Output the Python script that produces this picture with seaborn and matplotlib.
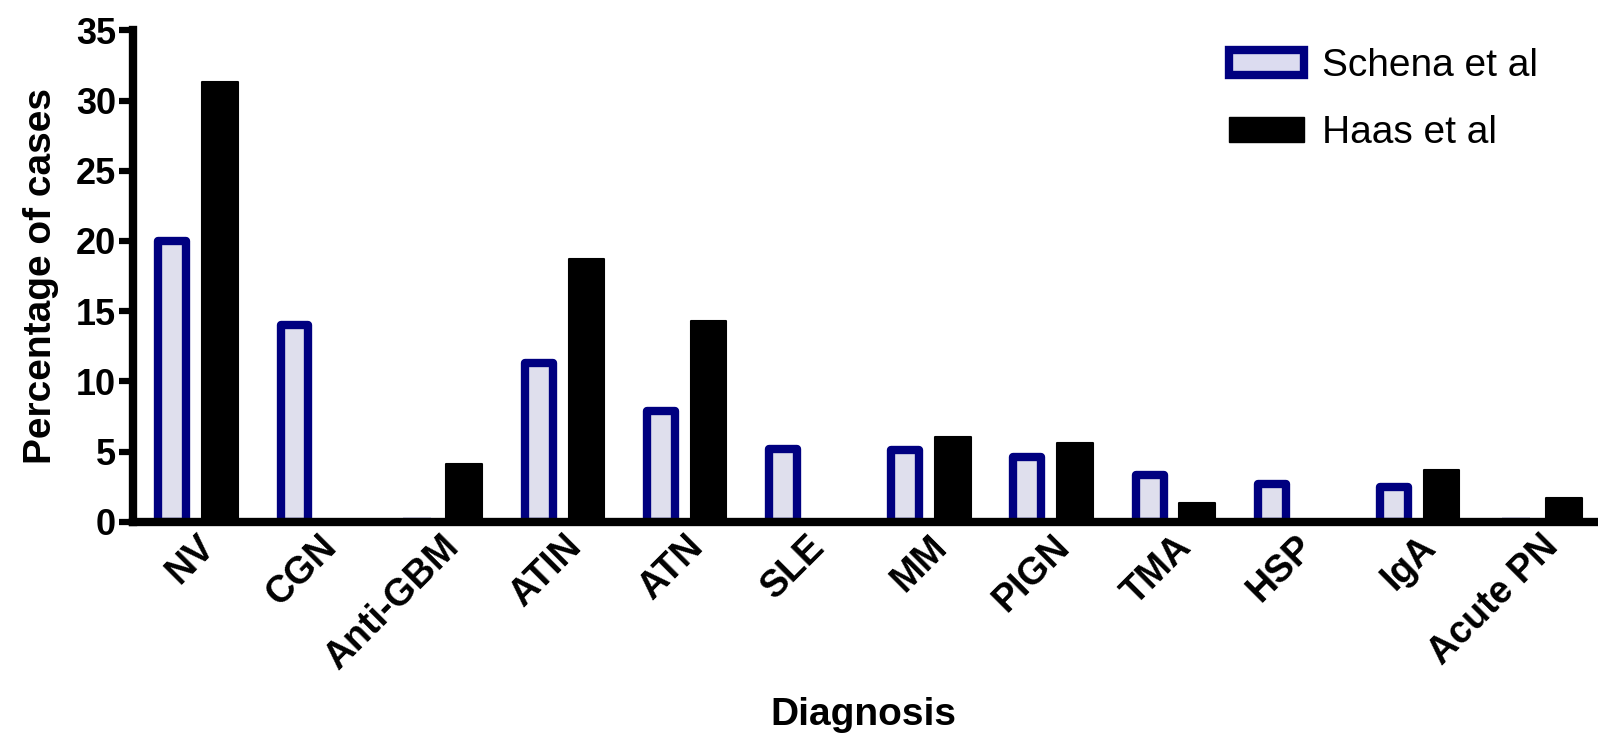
import matplotlib
matplotlib.use('Agg')
import matplotlib.pyplot as plt
import pandas as pd
import seaborn as sns
from matplotlib.patches import Patch

diagnoses = ['NV', 'CGN', 'Anti-GBM', 'ATIN', 'ATN', 'SLE', 'MM', 'PIGN',
             'TMA', 'HSP', 'IgA', 'Acute PN']
schena = [20.0, 14.0, 0.0, 11.3, 7.9, 5.2, 5.1, 4.6, 3.3, 2.7, 2.5, 0.0]
haas = [31.3, 0.0, 4.1, 18.7, 14.3, 0.0, 6.0, 5.6, 1.3, 0.0, 3.7, 1.7]
series_names = ['Schena et al', 'Haas et al']

NAVY = '#000080'
FILL = '#dcdcf0'

df = pd.DataFrame({
    'Diagnosis': diagnoses * 2,
    'Percentage': schena + haas,
    'Study': [series_names[0]] * len(diagnoses) + [series_names[1]] * len(diagnoses),
})

sns.set_style('white', rc={'text.color': 'black', 'axes.labelcolor': 'black',
                           'xtick.color': 'black', 'ytick.color': 'black'})
plt.rcParams['font.family'] = ['Liberation Sans', 'DejaVu Sans']

fig = plt.figure(figsize=(15.98, 7.39), dpi=100)
ax = fig.add_axes([0.083, 0.294, 0.915, 0.665])

sns.barplot(data=df, x='Diagnosis', y='Percentage', hue='Study', order=diagnoses,
            hue_order=series_names, palette=[FILL, 'black'], width=0.78, gap=0.25,
            ax=ax, legend=False)

# Schena bars: thick navy outline drawn inside a narrower bar
shrink = 0.032
for bar in ax.containers[0]:
    bar.set_x(bar.get_x() + shrink)
    bar.set_width(bar.get_width() - 2 * shrink)
    bar.set_edgecolor(NAVY)
    bar.set_linewidth(6)
    bar.set_joinstyle('round')
for bar in ax.containers[1]:
    bar.set_edgecolor('black')
    bar.set_linewidth(1.5)
    bar.set_joinstyle('round')

ax.set_xlim(-0.52, 11.45)
ax.set_ylim(0, 35)
ax.set_yticks(range(0, 36, 5))
ax.tick_params(axis='y', which='major', length=10, width=4.5, direction='out',
               labelsize=26, pad=2, left=True)
ax.tick_params(axis='x', length=0, pad=5)
for lbl in ax.get_yticklabels():
    lbl.set_fontweight('bold')
ax.set_xticks(range(len(diagnoses)))
ax.set_xticklabels(diagnoses, rotation=45, ha='right', rotation_mode='anchor',
                   fontweight='bold', fontsize=27)

sns.despine(ax=ax)
for side in ['left', 'bottom']:
    ax.spines[side].set_linewidth(6)
    ax.spines[side].set_color('black')

ax.set_ylabel('Percentage of cases', fontsize=28, fontweight='bold', labelpad=12)
ax.set_xlabel('Diagnosis', fontsize=28, fontweight='bold', labelpad=15)

handles = [Patch(facecolor=FILL, edgecolor=NAVY, linewidth=6, label=series_names[0]),
           Patch(facecolor='black', edgecolor='black', label=series_names[1])]
ax.legend(handles=handles, loc='upper right', bbox_to_anchor=(0.985, 1.035), frameon=False,
          fontsize=28, handlelength=1.95, handleheight=0.6, handletextpad=0.45,
          labelspacing=0.8)

fig.savefig('out.png', dpi=100)
